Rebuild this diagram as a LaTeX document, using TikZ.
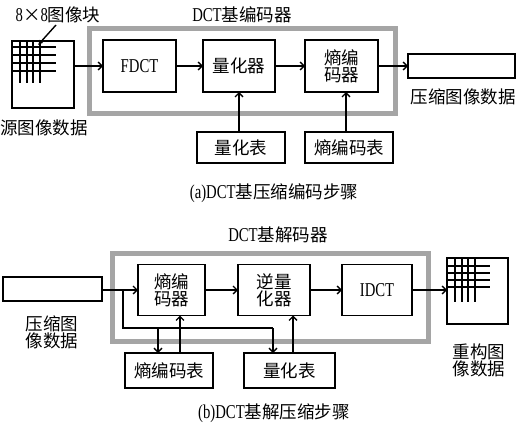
\documentclass[tikz,border=0pt]{standalone}
\usepackage{fontspec}
\setmainfont{Liberation Serif}[FakeStretch=0.75,Scale=1.12]
\newfontfamily\cjk{Noto Sans CJK SC}
\usetikzlibrary{arrows.meta}
\definecolor{framegray}{RGB}{165,165,165}
\tikzset{
  every node/.style={font=\fontsize{17.5}{17}\selectfont, inner sep=0pt, outer sep=0pt},
  box/.style={draw, line width=1.5pt, align=center},
  arr/.style={line width=1.3pt, -{Straight Barb[length=4pt,width=8pt]}},
  plain/.style={line width=1.3pt},
  grid/.style={line width=1.8pt},
  frame/.style={draw=framegray, line width=5pt},
  lbl/.style={align=center}
}
\begin{document}
\begin{tikzpicture}[x=1pt,y=-1pt]
\useasboundingbox (0,0) rectangle (521,428);
% ---------------- (a) ----------------
\draw[frame] (89,29) rectangle (395,113);
\node[lbl] (enc) at (242,15) {DCT{\cjk 基编码器}};
\node[box, minimum width=62pt, minimum height=67pt] (src) at (43,74.5) {};
\foreach \x in {20,27,33,40} \draw[grid] (\x,41) -- (\x,83);
\foreach \y in {47,55,63,71} \draw[grid] (12,\y) -- (56,\y);
\node[lbl] (blk) at (58,15) {8{\cjk ×}8{\cjk 图像块}};
\coordinate (blkstart) at (56,25);
\coordinate (blkend) at (38,45);
\draw[line width=1.4pt, -{Latex[length=5pt,width=5pt]}] (blkstart) -- (blkend);
\node[lbl] (srcl) at (44,128) {\cjk 源图像数据};
\node[box, minimum width=73pt, minimum height=52pt] (F) at (139.5,66) {FDCT};
\node[box, minimum width=72pt, minimum height=52pt] (Q) at (239,66) {\cjk 量化器};
\node[box, minimum width=73pt, minimum height=52pt] (E) at (341.5,66) {\cjk 熵编\\\cjk 码器};
\node[box, minimum width=107pt, minimum height=24pt] (out) at (461.5,66) {};
\node[lbl] (outl) at (463,97) {\cjk 压缩图像数据};
\node[box, minimum width=88pt, minimum height=31pt] (QT) at (241,147.5) {\cjk 量化表};
\node[box, minimum width=88pt, minimum height=31pt] (ET) at (349,147.5) {\cjk 熵编码表};
\draw[arr] (src.east |- F.west) -- (F.west);
\draw[arr] (F) -- (Q);
\draw[arr] (Q) -- (E);
\draw[arr] (E) -- (out);
\draw[arr] (Q.south |- QT.north) -- (Q.south);
\draw[arr] (346,0 |- ET.north) -- (346,0 |- E.south);
\node[lbl] (capa) at (274,193) {(a)DCT{\cjk 基压缩编码步骤}};
% ---------------- (b) ----------------
\draw[frame] (112,253) rectangle (428,341);
\node[lbl] (dec) at (278,235) {DCT{\cjk 基解码器}};
\node[box, minimum width=99pt, minimum height=24pt] (in) at (52.5,289) {};
\node[lbl] (inl) at (52,332) {\cjk 压缩图\\\cjk 像数据};
\node[box, minimum width=67pt, minimum height=51pt] (Ed) at (171.5,290) {\cjk 熵编\\\cjk 码器};
\node[box, minimum width=72pt, minimum height=51pt] (IQ) at (274,290) {\cjk 逆量\\\cjk 化器};
\node[box, minimum width=70pt, minimum height=51pt] (ID) at (377,290) {IDCT};
\node[box, minimum width=61pt, minimum height=66pt] (rec) at (477.5,291) {};
\foreach \x in {455,462,468,475} \draw[grid] (\x,258) -- (\x,302);
\foreach \y in {266,273,280,287} \draw[grid] (447,\y) -- (490,\y);
\node[lbl] (recl) at (479,360) {\cjk 重构图\\\cjk 像数据};
\node[box, minimum width=88pt, minimum height=35pt] (ETb) at (169,370.5) {\cjk 熵编码表};
\node[box, minimum width=91pt, minimum height=35pt] (QTb) at (289.5,370.5) {\cjk 量化表};
\draw[arr] (in.east |- Ed.west) -- (Ed.west);
\draw[arr] (Ed) -- (IQ);
\draw[arr] (IQ) -- (ID);
\draw[arr] (ID.east) -- (rec.west |- ID.east);
\coordinate (br) at (123,290);
\coordinate (bl) at (123,328);
\coordinate (b1) at (158,328);
\coordinate (b2) at (273,328);
\draw[plain] (br) -- (bl) -- (b2);
\draw[arr] (b1) -- (b1 |- ETb.north);
\draw[arr] (b2) -- (b2 |- QTb.north);
\draw[arr] (180,0 |- ETb.north) -- (180,0 |- Ed.south);
\draw[arr] (293,0 |- QTb.north) -- (293,0 |- IQ.south);
\node[lbl] (capb) at (274,413) {(b)DCT{\cjk 基解压缩步骤}};
\end{tikzpicture}
\end{document}
